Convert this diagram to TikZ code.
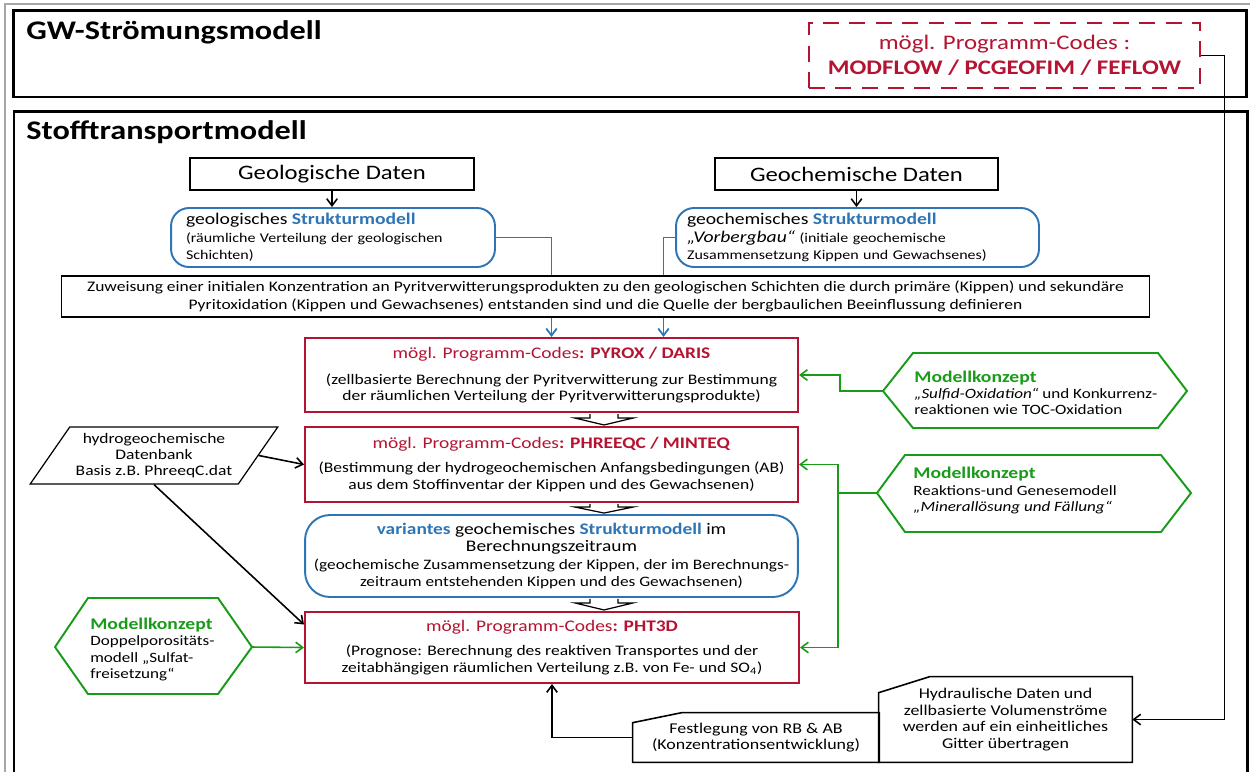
\documentclass[tikz,border=0pt]{standalone}
\usepackage{fontspec}
\setmainfont{Carlito}[FakeStretch=1.2]
\usetikzlibrary{shapes.geometric, arrows.meta, calc}

\definecolor{codered}{RGB}{180,20,50}
\definecolor{strukturblue}{RGB}{46,117,182}
\definecolor{konzeptgreen}{RGB}{25,155,25}

\newcommand{\codetitle}[1]{{\fontsize{9.2}{9.4}\selectfont\textcolor{codered}{mögl. Programm-Codes\textbf{: #1}}}}
\newcommand{\konzepttitle}{{\fontsize{9.3}{9.4}\selectfont\textcolor{konzeptgreen}{\textbf{Modellkonzept}}}}

\begin{document}
\begin{tikzpicture}[
    x=0.02cm, y=-0.02cm,
    outerframe/.style={draw, line width=1.7pt, inner sep=0},
    frametitle/.style={anchor=west, inner sep=0, font=\fontsize{15.3}{18}\selectfont\bfseries},
    databox/.style={draw, line width=1.1pt, inner sep=0, font=\fontsize{11.7}{14}\selectfont},
    structbox/.style={draw=strukturblue, line width=1.1pt, rounded corners=0.36cm, inner xsep=0.3cm, inner ysep=0, align=left, font=\fontsize{7.6}{10}\selectfont},
    codebox/.style={draw=codered, line width=1.2pt, inner sep=0, align=center, font=\fontsize{8.3}{9.4}\selectfont},
    notebox/.style={draw, line width=0.6pt, fill=white, inner sep=0, align=center, font=\fontsize{8.3}{9.8}\selectfont},
    inputbox/.style={inner sep=0, align=center, font=\fontsize{8.5}{9.4}\selectfont},
    konzept/.style={anchor=west, inner sep=0, align=left, font=\fontsize{8.1}{9.2}\selectfont},
    hexline/.style={draw=konzeptgreen, line width=1.1pt},
    arrow/.style={-{Straight Barb[length=4pt,width=6pt]}, line width=0.9pt},
    bluearrow/.style={arrow, draw=strukturblue, line width=1pt},
    greenarrow/.style={arrow, draw=konzeptgreen},
    hollow/.style={draw, fill=white, line width=0.7pt}
]
\useasboundingbox (0,0) rectangle (1250,772);

% Frames
\draw[gray!70, line width=0.6pt] (5,772) -- (5,4) -- (1250,4);
\node[outerframe, minimum width=24.68cm, minimum height=1.74cm] (gwframe) at (630,53.5) {};
\node[frametitle] (gwtitle) at (26,32) {GW-Strömungsmodell};
\node[draw=codered, dash pattern=on 9pt off 6pt, line width=1.5pt, text=codered, inner sep=0,
      minimum width=7.82cm, minimum height=1.3cm, align=center,
      font=\fontsize{11.8}{14.4}\selectfont] (modflow) at (1004.5,55.5)
      {mögl. Programm-Codes :\\ \textbf{MODFLOW / PCGEOFIM / FEFLOW}};

\draw[line width=1.7pt] (14,772) -- (14,111) -- (1247,111) -- (1247,772);
\node[frametitle] (stofftitle) at (26,132) {Stofftransportmodell};

% Data
\node[databox, minimum width=5.68cm, minimum height=0.64cm] (geodaten) at (332,174) {Geologische Daten};
\node[databox, minimum width=5.66cm, minimum height=0.64cm] (chemdaten) at (856.5,174) {Geochemische Daten};

% Structure models
\node[structbox, minimum width=6.48cm, minimum height=1.18cm, text width=5.88cm] (geostruktur) at (333,237.5)
    {{\fontsize{9.3}{10}\selectfont geologisches \textcolor{strukturblue}{\textbf{Strukturmodell}}}\\
     (räumliche Verteilung der geologischen\\ Schichten)};
\node[structbox, inner xsep=0.22cm, minimum width=7.26cm, minimum height=1.18cm, text width=6.82cm] (chemstruktur) at (857.5,237.5)
    {{\fontsize{9.3}{10}\selectfont geochemisches \textcolor{strukturblue}{\textbf{Strukturmodell}}}\\
     {\fontsize{9.3}{10}\selectfont\itshape „Vorbergbau“} (initiale geochemische\\
     Zusammensetzung Kippen und Gewachsenes)};

% Program codes
\node[codebox, minimum width=9.86cm, minimum height=1.48cm] (pyrox) at (551.5,375)
    {\codetitle{PYROX / DARIS}\\[5.4pt]
     (zellbasierte Berechnung der Pyritverwitterung zur Bestimmung\\
     der räumlichen Verteilung der Pyritverwitterungsprodukte)};
\node[codebox, minimum width=9.86cm, minimum height=1.5cm] (phreeqc) at (551.5,464.5)
    {\codetitle{PHREEQC / MINTEQ}\\[4.4pt]
     (Bestimmung der hydrogeochemischen Anfangsbedingungen (AB)\\
     aus dem Stoffinventar der Kippen und des Gewachsenen)};
\node[structbox, align=center, rounded corners=0.5cm, inner sep=0, minimum width=9.86cm, minimum height=1.64cm,
      font=\fontsize{8.2}{9.6}\selectfont] (variante) at (551.5,556)
    {{\fontsize{9.2}{10}\selectfont\textcolor{strukturblue}{\textbf{variantes}} geochemisches \textcolor{strukturblue}{\textbf{Strukturmodell}} im}\\
     {\fontsize{9.2}{10}\selectfont Berechnungszeitraum}\\[1pt]
     (geochemische Zusammensetzung der Kippen, der im Berechnungs-\\
     zeitraum entstehenden Kippen und des Gewachsenen)};
\node[codebox, minimum width=9.88cm, minimum height=1.42cm] (pht3d) at (552,647.5)
    {\codetitle{PHT3D}\\[4.4pt]
     (Prognose: Berechnung des reaktiven Transportes und der\\
     zeitabhängigen räumlichen Verteilung z.B. von Fe- und SO\textsubscript{4})};

% Database
\node[trapezium, trapezium left angle=50, trapezium right angle=130, trapezium stretches=true,
      draw, line width=0.7pt, inner sep=0, minimum width=4.96cm, minimum height=1.14cm,
      align=center, font=\fontsize{8.3}{8.9}\selectfont] (datenbank) at (154,455.5)
    {hydrogeochemische\\ Datenbank\\ Basis z.B. PhreeqC.dat};

% Model concepts
\draw[hexline] (883,391) coordinate (tipA) -- (913,353) -- (1158,353) -- (1187,391) -- (1158,428) -- (913,428) -- cycle;
\node[konzept] (konzeptA) at (914,393)
    {\konzepttitle\\ \textit{„Sulfid-Oxidation“} und Konkurrenz-\\ reaktionen wie TOC-Oxidation};
\draw[hexline] (877,493) coordinate (tipB) -- (905,455) -- (1161,455) -- (1191,493) -- (1161,532) -- (905,532) -- cycle;
\node[konzept] (konzeptB) at (913,490.5)
    {\konzepttitle\\ Reaktions-und Genesemodell\\ \textit{„Minerallösung und Fällung“}};
\draw[hexline] (252,647) coordinate (tipC) -- (218,598) -- (88,598) -- (55,647) -- (88,694) -- (218,694) -- cycle;
\node[konzept] (konzeptC) at (90,649.5)
    {\konzepttitle\\ Doppelporositäts-\\ modell „Sulfat-\\ freisetzung“};

% Boundary data
\node[inputbox, minimum width=4.92cm, minimum height=0.98cm] (festlegung) at (756,737.5)
    {Festlegung von RB \& AB\\ (Konzentrationsentwicklung)};
\draw[line width=0.9pt] (festlegung.south west) -- ($(festlegung.north west)+(0,10)$) -- ($(festlegung.north west)+(49,0)$)
    -- (festlegung.north east) -- (festlegung.south east) -- cycle;
\node[inputbox, minimum width=5.06cm, minimum height=1.7cm] (hydraulik) at (1005.5,719.5)
    {Hydraulische Daten und\\ zellbasierte Volumenströme\\ werden auf ein einheitliches\\ Gitter übertragen};
\draw[line width=0.9pt] (hydraulik.south west) -- ($(hydraulik.north west)+(0,16)$) -- ($(hydraulik.north west)+(51,0)$)
    -- (hydraulik.north east) -- (hydraulik.south east) -- cycle;

% Arrows
\draw[arrow] (geodaten.south) -- (geodaten.south |- geostruktur.north);
\draw[arrow] (chemdaten.south) -- (chemdaten.south |- chemstruktur.north);
\draw[bluearrow] (geostruktur.east) -| (pyrox.north);
\draw[bluearrow] (chemstruktur.west) -| ($(pyrox.north)+(112,0)$);

% Assignment (over the blue lines)
\node[notebox, minimum width=21.78cm, minimum height=0.82cm] (zuweisung) at (605.5,296.5)
    {Zuweisung einer initialen Konzentration an Pyritverwitterungsprodukten zu den geologischen Schichten die durch primäre (Kippen) und sekundäre\\
     Pyritoxidation (Kippen und Gewachsenes) entstanden sind und die Quelle der bergbaulichen Beeinflussung definieren};

\draw[hollow] ($(pyrox.south)+(38.5,1)$) -- ++(0,4) -- ++(-15,0) -- ($(phreeqc.north)+(52.5,-1)$)
    -- ($(pyrox.south)+(81.5,5)$) -- ++(-15,0) -- ++(0,-4);
\draw[hollow] ($(phreeqc.south)+(38.5,1)$) -- ++(0,3) -- ++(-15,0) -- ($(variante.north)+(52.5,-1)$)
    -- ($(phreeqc.south)+(81.5,4)$) -- ++(-15,0) -- ++(0,-3);
\draw[hollow] ($(variante.south)+(38.5,1)$) -- ++(0,4) -- ++(-15,0) -- ($(pht3d.north)+(52,-1)$)
    -- ($(variante.south)+(81.5,5)$) -- ++(-15,0) -- ++(0,-4);

\draw[greenarrow] (tipA) -- ++(-43,0) |- (pyrox.east);
\draw[greenarrow] (tipB) -- ++(-39,0) |- (phreeqc.east);
\draw[greenarrow] (tipB) -- ++(-39,0) |- (pht3d.east);
\draw[greenarrow] (tipC) -- (pht3d.west);

\draw[arrow] (datenbank.east) -- (phreeqc.west);
\draw[arrow] (datenbank.south) -- ($(pht3d.west)+(0,-23)$);
\draw[arrow] (festlegung.west) -| (pht3d.south);
\draw[arrow] (modflow.east) -- ++(23,0) |- (hydraulik.east);

\end{tikzpicture}
\end{document}
